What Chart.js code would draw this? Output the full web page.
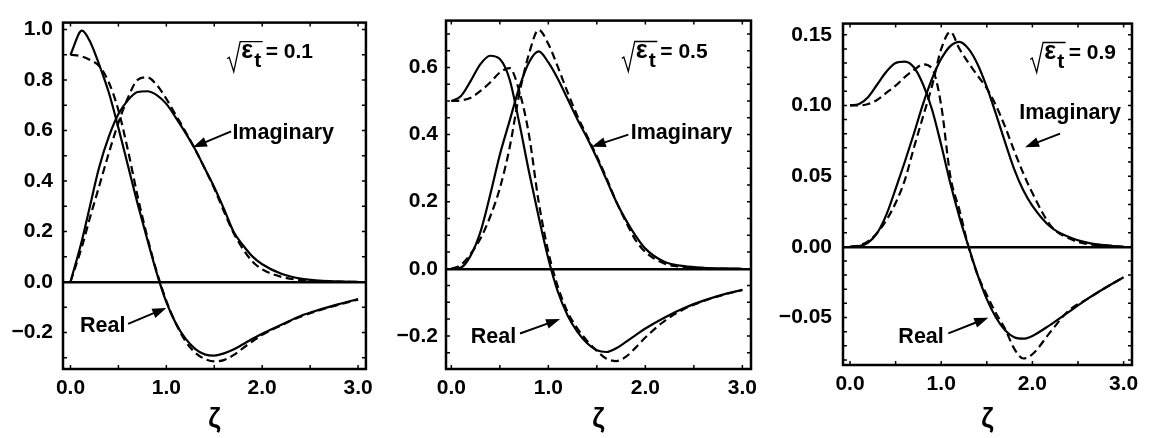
<!DOCTYPE html>
<html><head><meta charset="utf-8">
<script src="https://cdn.jsdelivr.net/npm/chart.js@4.4.0/dist/chart.umd.min.js"></script>
<style>
html,body{margin:0;padding:0;background:#fff;}
body{width:1151px;height:438px;overflow:hidden;position:relative;}
canvas{position:absolute;top:0;}
</style></head><body>
<canvas id="c1" width="380" height="438" style="left:0px"></canvas>
<canvas id="c2" width="390" height="438" style="left:380px"></canvas>
<canvas id="c3" width="381" height="438" style="left:770px"></canvas>
<script>
// ---------------- data ----------------
const zeta1 = [0,0.12,0.2,0.3,0.4,0.5,0.6,0.7,0.8,0.9,1.0,1.1,1.2,1.3,1.4,1.5,1.6,1.7,1.8,1.9,2.0,2.2,2.4,2.6,2.8,3.0];
const zeta  = [0,0.1,0.2,0.3,0.4,0.5,0.6,0.7,0.8,0.9,1.0,1.1,1.2,1.3,1.4,1.5,1.6,1.7,1.8,1.9,2.0,2.2,2.4,2.6,2.8,3.0];

const realSolid1 = [0.90,0.995,0.955,0.86,0.75,0.61,0.46,0.31,0.17,0.035,-0.08,-0.165,-0.225,-0.265,-0.287,-0.292,-0.283,-0.268,-0.247,-0.225,-0.205,-0.17,-0.135,-0.11,-0.088,-0.068];
const realDash1  = [0.90,0.893,0.88,0.855,0.79,0.68,0.52,0.34,0.18,0.04,-0.075,-0.165,-0.235,-0.28,-0.305,-0.315,-0.31,-0.29,-0.262,-0.235,-0.21,-0.172,-0.138,-0.112,-0.09,-0.07];
const imagSolid1 = [0,0.165,0.295,0.455,0.575,0.665,0.72,0.752,0.755,0.74,0.705,0.65,0.59,0.525,0.45,0.375,0.29,0.20,0.145,0.10,0.07,0.032,0.013,0.005,0.002,0];
const imagDash1  = [0,0.14,0.25,0.38,0.51,0.63,0.73,0.80,0.81,0.78,0.725,0.66,0.595,0.525,0.45,0.37,0.28,0.195,0.13,0.08,0.05,0.02,0.007,0.002,0,0];

const realSolid2 = [0.50,0.515,0.56,0.61,0.635,0.625,0.565,0.435,0.29,0.155,0.03,-0.07,-0.14,-0.188,-0.222,-0.243,-0.248,-0.237,-0.218,-0.198,-0.178,-0.145,-0.117,-0.095,-0.077,-0.063];
const realDash2  = [0.50,0.502,0.51,0.53,0.555,0.585,0.598,0.53,0.40,0.20,0.05,-0.055,-0.13,-0.178,-0.215,-0.245,-0.268,-0.275,-0.262,-0.235,-0.205,-0.155,-0.12,-0.096,-0.078,-0.063];
const imagSolid2 = [0,0.004,0.04,0.11,0.22,0.34,0.44,0.54,0.615,0.648,0.615,0.565,0.505,0.445,0.39,0.33,0.265,0.20,0.145,0.098,0.06,0.02,0.008,0.003,0.001,0];
const imagDash2  = [0,0.012,0.045,0.09,0.155,0.24,0.36,0.52,0.64,0.712,0.67,0.60,0.525,0.455,0.395,0.335,0.27,0.20,0.14,0.085,0.05,0.015,0.005,0.001,0,0];

const realSolid3 = [0.100,0.101,0.106,0.115,0.124,0.130,0.131,0.127,0.115,0.097,0.072,0.045,0.021,0.0,-0.02,-0.037,-0.05,-0.059,-0.064,-0.065,-0.063,-0.055,-0.046,-0.037,-0.029,-0.0215];
const realDash3  = [0.100,0.100,0.101,0.104,0.109,0.114,0.120,0.125,0.129,0.126,0.10,0.05,0.026,0.0,-0.02,-0.034,-0.047,-0.058,-0.072,-0.079,-0.076,-0.06,-0.045,-0.037,-0.029,-0.0215];
const imagSolid3 = [0,0.0005,0.003,0.01,0.023,0.041,0.06,0.08,0.101,0.119,0.133,0.142,0.145,0.14,0.129,0.113,0.094,0.074,0.055,0.04,0.029,0.014,0.007,0.003,0.001,0];
const imagDash3  = [0,0.001,0.004,0.01,0.019,0.031,0.047,0.07,0.092,0.114,0.14,0.152,0.14,0.13,0.121,0.112,0.1,0.085,0.068,0.052,0.038,0.015,0.006,0.002,0.001,0];

const xTickLabels = ['0.0','1.0','2.0','3.0'];
const epsLabels = ['0.1','0.5','0.9'];

// ---------------- rendering ----------------
const FONT = '"Liberation Sans", Arial, Helvetica, sans-serif';
Chart.defaults.font.family = FONT;
Chart.defaults.color = '#000';

function pts(xs, ys){ return xs.map((x,i)=>({x:x, y:ys[i]})); }

function drawArrow(ctx, x1, y1, x2, y2){
  const ang = Math.atan2(y2-y1, x2-x1), c = Math.cos(ang), s = Math.sin(ang);
  const hl = 14, hw = 5;
  ctx.beginPath(); ctx.moveTo(x1,y1); ctx.lineTo(x2-hl*0.7*c, y2-hl*0.7*s);
  ctx.lineWidth = 2; ctx.stroke();
  ctx.beginPath(); ctx.moveTo(x2,y2);
  ctx.lineTo(x2-hl*c+hw*s, y2-hl*s-hw*c);
  ctx.lineTo(x2-hl*c-hw*s, y2-hl*s+hw*c);
  ctx.closePath(); ctx.fill();
}

function drawRoot(ctx, px, py, val){
  ctx.save();
  ctx.lineWidth = 1.3; ctx.lineJoin = 'miter';
  ctx.beginPath();
  ctx.moveTo(px-1.5, py+0.5);
  ctx.lineTo(px+0.5, py-1);
  ctx.lineTo(px+5, py+13.4);
  ctx.lineTo(px+11.4, py-16.6);
  ctx.lineTo(px+34, py-16.6);
  ctx.stroke();
  ctx.textAlign = 'left'; ctx.textBaseline = 'alphabetic';
  ctx.font = 'bold 25px ' + FONT;
  ctx.fillText('\u03B5', px+12.5, py);
  ctx.font = 'bold 21px ' + FONT;
  ctx.fillText('t', px+25.5, py+8.5);
  ctx.font = 'bold 21px ' + FONT;
  ctx.fillText('= ' + val, px+37, py);
  ctx.restore();
}

const framePlugin = {
  id: 'frame',
  afterDraw(chart){
    const o = chart.options.plugins.frame;
    const {ctx, chartArea: a, scales: {x, y}} = chart;
    ctx.save();
    ctx.strokeStyle = '#000'; ctx.lineWidth = 1.5;
    const tl = 4;
    ctx.beginPath();
    for (let v = 0; v <= 3.0001; v += 0.5){
      const px = x.getPixelForValue(v);
      ctx.moveTo(px, a.bottom); ctx.lineTo(px, a.bottom - tl);
      ctx.moveTo(px, a.top); ctx.lineTo(px, a.top + tl);
    }
    for (let k = Math.ceil(y.min / o.yStep); k * o.yStep <= y.max; k++){
      const py = y.getPixelForValue(k * o.yStep);
      ctx.moveTo(a.left, py); ctx.lineTo(a.left + tl, py);
      ctx.moveTo(a.right, py); ctx.lineTo(a.right - tl, py);
    }
    ctx.stroke();
    ctx.lineWidth = 2.5;
    ctx.strokeRect(a.left, a.top, a.right - a.left, a.bottom - a.top);
    ctx.restore();
  }
};

const notePlugin = {
  id: 'notes',
  afterDatasetsDraw(chart){
    const n = chart.options.plugins.notes;
    const {ctx, scales: {x, y}} = chart;
    const X = v => x.getPixelForValue(v), Y = v => y.getPixelForValue(v);
    ctx.save();
    ctx.fillStyle = '#000'; ctx.strokeStyle = '#000';
    drawRoot(ctx, X(n.root[0]), Y(n.root[1]), n.eps);
    ctx.font = 'bold 21.5px ' + FONT; ctx.textAlign = 'left'; ctx.textBaseline = 'alphabetic';
    ctx.fillText('Imaginary', X(n.imagText[0]), Y(n.imagText[1]));
    ctx.fillText('Real', X(n.realText[0]), Y(n.realText[1]));
    drawArrow(ctx, X(n.imagArrow[0]), Y(n.imagArrow[1]), X(n.imagArrow[2]), Y(n.imagArrow[3]));
    drawArrow(ctx, X(n.realArrow[0]), Y(n.realArrow[1]), X(n.realArrow[2]), Y(n.realArrow[3]));
    ctx.restore();
  }
};

function makeChart(id, xs, series, cfg){
  const ds = (data, dashed) => ({
    data: pts(xs, data), borderColor: '#000', borderWidth: 2.2,
    borderDash: dashed ? [8,4.5] : [], pointRadius: 0,
    cubicInterpolationMode: 'monotone', fill: false
  });
  return new Chart(document.getElementById(id), {
    type: 'line',
    data: { datasets: [ds(series[0],false), ds(series[1],true), ds(series[2],false), ds(series[3],true)] },
    options: {
      responsive: false, animation: false, events: [],
      layout: { padding: { left: 0, right: cfg.padR, top: cfg.padT, bottom: 0 } },
      scales: {
        x: {
          type: 'linear', min: cfg.xMin, max: cfg.xMax,
          afterFit: s => { s.height = cfg.xH; },
          grid: { display: false, drawTicks: false },
          border: { display: false },
          ticks: { stepSize: 1, includeBounds: false, padding: 7, maxRotation: 0,
                   font: { size: 21, weight: 'bold' },
                   callback: v => xTickLabels[Math.round(v)] },
          title: { display: true, text: '\u03B6', font: { size: 27, weight: 'bold' }, padding: { top: 0, bottom: 2 } }
        },
        y: {
          min: cfg.yMin, max: cfg.yMax,
          afterFit: s => { s.width = cfg.yW; },
          grid: { drawTicks: false, color: c => (Math.abs(c.tick.value) < 1e-9 ? '#000' : 'rgba(0,0,0,0)'), lineWidth: 2.5 },
          border: { display: false },
          ticks: { stepSize: cfg.yStepLabel, includeBounds: false, padding: cfg.yPad,
                   font: { size: 21, weight: 'bold' },
                   callback: v => (Math.abs(v) < 1e-9 ? 0 : v).toFixed(cfg.dec).replace('-', '\u2212') }
        }
      },
      plugins: {
        legend: { display: false }, tooltip: { enabled: false },
        frame: { yStep: cfg.yMinor },
        notes: cfg.notes
      }
    },
    plugins: [framePlugin, notePlugin]
  });
}

makeChart('c1', zeta1, [realSolid1, realDash1, imagSolid1, imagDash1], {
  padR: 13, padT: 6, xH: 69, yW: 63, yPad: 10,
  xMin: -0.078, xMax: 3.082, yMin: -0.345, yMax: 1.027, yStepLabel: 0.2, yMinor: 0.1, dec: 1,
  notes: { eps: epsLabels[0], root: [1.651, 0.886], imagText: [1.689, 0.565], realText: [0.099, -0.198],
           imagArrow: [1.676, 0.596, 1.277, 0.533], realArrow: [0.601, -0.166, 1.0, -0.103] }
});
makeChart('c2', zeta, [realSolid2, realDash2, imagSolid2, imagDash2], {
  padR: 19, padT: 4, xH: 69, yW: 66, yPad: 8,
  xMin: -0.055, xMax: 3.089, yMin: -0.2987, yMax: 0.7397, yStepLabel: 0.2, yMinor: 0.05, dec: 1,
  notes: { eps: epsLabels[1], root: [1.773, 0.628], imagText: [1.849, 0.386], realText: [0.2, -0.221],
           imagArrow: [1.825, 0.400, 1.447, 0.364], realArrow: [0.708, -0.193, 1.121, -0.150] }
});
makeChart('c3', zeta, [realSolid3, realDash3, imagSolid3, imagDash3], {
  padR: 19, padT: 6, xH: 73, yW: 73, yPad: 11,
  xMin: -0.077, xMax: 3.092, yMin: -0.0836, yMax: 0.1579, yStepLabel: 0.05, yMinor: 0.01, dec: 2,
  notes: { eps: epsLabels[2], root: [1.992, 0.1328], imagText: [1.856, 0.0906], realText: [0.530, -0.068],
           imagArrow: [2.303, 0.0801, 1.919, 0.0705], realArrow: [1.078, -0.0612, 1.516, -0.0501] }
});
</script>
</body></html>
